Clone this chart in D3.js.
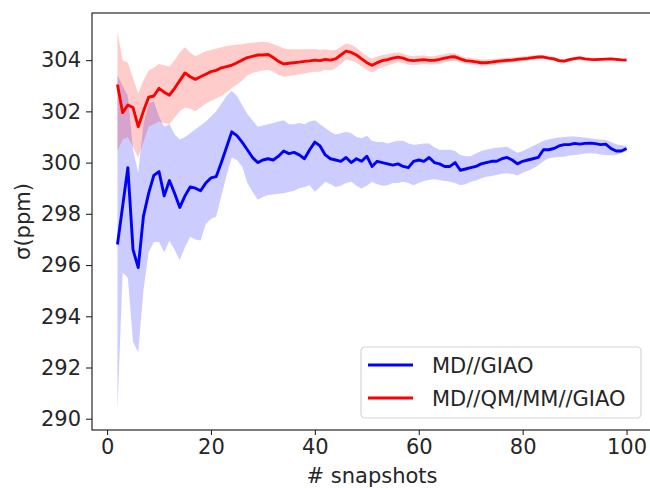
<!DOCTYPE html>
<html>
<head>
<meta charset="utf-8">
<script src="https://cdn.jsdelivr.net/npm/d3@7/dist/d3.min.js"></script>
<style>
	body { margin: 0; background: #fff; }
	text { font-family: "DejaVu Sans", sans-serif; fill: #262626; }
</style>
</head>
<body>
<div id="chart"></div>
<script>
// snapshots 2..100
var snapshots = d3.range(2, 101);

var blueMean = [296.8, 298.3, 299.8, 296.6, 295.9, 297.9, 298.8, 299.5, 299.65, 298.7,
	299.3, 298.8, 298.25, 298.7, 299.05, 299.0, 298.9, 299.2, 299.4, 299.45,
	300.0, 300.6, 301.2, 301.05, 300.8, 300.5, 300.2, 300.0, 300.1, 300.15,
	300.1, 300.25, 300.45, 300.35, 300.4, 300.3, 300.15, 300.5, 300.8, 300.65,
	300.3, 300.15, 300.1, 300.05, 300.2, 300.0, 300.15, 300.05, 300.25, 299.85,
	300.05, 300.0, 299.95, 299.9, 299.95, 299.85, 299.8, 300.05, 300.1, 300.05,
	300.2, 300.0, 299.95, 299.85, 299.85, 300.0, 299.7, 299.75, 299.8, 299.85,
	299.95, 300.0, 300.05, 300.05, 300.15, 300.2, 300.1, 299.95, 300.05, 300.1,
	300.15, 300.2, 300.5, 300.5, 300.55, 300.65, 300.7, 300.7, 300.75, 300.72,
	300.75, 300.76, 300.74, 300.7, 300.72, 300.55, 300.45, 300.45, 300.55];

var blueHigh = [303.4, 303.0, 302.6, 300.5, 299.6, 301.5, 302.3, 302.4, 301.8, 301.4,
	301.5, 301.1, 300.9, 301.0, 301.15, 301.3, 301.45, 301.6, 301.8, 302.0,
	302.3, 302.6, 302.8, 302.6, 302.25, 301.9, 301.65, 301.4, 301.45, 301.5,
	301.55, 301.6, 301.65, 301.5, 301.5, 301.55, 301.5, 301.6, 301.65, 301.5,
	301.35, 301.2, 301.1, 301.15, 301.2, 301.15, 301.0, 300.95, 301.05, 300.85,
	300.8, 300.8, 300.75, 300.8, 300.85, 300.85, 300.75, 300.7, 300.72, 300.75,
	300.75, 300.6, 300.5, 300.5, 300.5, 300.45, 300.3, 300.25, 300.25, 300.35,
	300.45, 300.5, 300.55, 300.58, 300.6, 300.62, 300.5, 300.38, 300.45, 300.55,
	300.65, 300.75, 300.85, 300.9, 300.95, 300.98, 301.0, 301.02, 301.02, 301.0,
	300.98, 300.95, 300.92, 300.9, 300.88, 300.8, 300.72, 300.68, 300.65];

var blueLow = [290.3, 295.7, 295.5, 293.0, 292.6, 295.0, 296.5, 296.9, 296.9, 296.5,
	296.95, 296.6, 296.2, 296.7, 297.1, 297.0, 296.96, 297.6, 297.8, 297.9,
	298.7, 299.5, 300.2, 300.1, 299.85, 299.2, 298.86, 298.55, 298.66, 298.73,
	298.75, 298.78, 298.8, 298.85, 298.9, 299.0, 299.05, 299.12, 298.86, 299.05,
	299.25, 299.15, 299.05, 299.1, 299.2, 299.25, 299.1, 298.99, 299.1, 299.25,
	299.15, 299.1, 299.12, 299.2, 299.2, 299.25, 299.2, 299.12, 299.2, 299.28,
	299.32, 299.35, 299.32, 299.28, 299.25, 299.2, 299.12, 299.15, 299.25, 299.3,
	299.38, 299.45, 299.48, 299.52, 299.56, 299.58, 299.55, 299.5, 299.6, 299.68,
	299.77, 299.9, 300.05, 300.17, 300.2, 300.22, 300.23, 300.28, 300.3, 300.32,
	300.35, 300.36, 300.35, 300.32, 300.3, 300.28, 300.3, 300.38, 300.43];

var redMean = [303.05, 301.95, 302.25, 302.15, 301.4, 302.0, 302.55, 302.6, 302.9, 302.75,
	302.63, 302.9, 303.2, 303.5, 303.35, 303.25, 303.35, 303.45, 303.55, 303.6,
	303.7, 303.75, 303.8, 303.9, 304.0, 304.1, 304.15, 304.2, 304.2, 304.22,
	304.1, 303.95, 303.85, 303.88, 303.9, 303.92, 303.95, 303.97, 304.0, 303.98,
	304.03, 304.0, 304.05, 304.2, 304.35, 304.3, 304.2, 304.05, 303.9, 303.8,
	303.9, 303.98, 304.02, 304.08, 304.12, 304.08, 304.0, 303.98, 304.0, 304.02,
	303.99, 303.99, 304.03, 304.08, 304.12, 304.13, 304.05, 303.98, 303.96, 303.93,
	303.9, 303.9, 303.92, 303.95, 303.97, 303.99, 304.0, 304.03, 304.05, 304.07,
	304.1, 304.12, 304.12, 304.08, 304.05, 303.98, 303.96, 304.02, 304.06, 304.09,
	304.05, 304.03, 304.02, 304.03, 304.04, 304.05, 304.03, 304.01, 304.0];

var redHigh = [305.1, 304.0, 303.9, 303.3, 302.7, 303.2, 303.6, 303.7, 303.85, 303.8,
	303.75, 304.0, 304.3, 304.5, 304.3, 304.15, 304.25, 304.35, 304.4, 304.45,
	304.5, 304.55, 304.58, 304.6, 304.62, 304.66, 304.68, 304.7, 304.72, 304.7,
	304.62, 304.55, 304.45, 304.42, 304.42, 304.42, 304.42, 304.42, 304.43, 304.4,
	304.42, 304.38, 304.4, 304.52, 304.65, 304.6, 304.48, 304.32, 304.16, 304.05,
	304.14, 304.2, 304.24, 304.28, 304.3, 304.26, 304.18, 304.15, 304.18, 304.18,
	304.15, 304.15, 304.2, 304.24, 304.27, 304.27, 304.18, 304.1, 304.08, 304.05,
	304.02, 304.02, 304.03, 304.06, 304.07, 304.09, 304.1, 304.12, 304.14, 304.15,
	304.18, 304.19, 304.19, 304.15, 304.12, 304.05, 304.03, 304.08, 304.12, 304.14,
	304.1, 304.08, 304.07, 304.07, 304.08, 304.09, 304.07, 304.05, 304.04];

var redLow = [300.45, 300.9, 301.0, 300.6, 300.2, 300.8, 301.4, 301.5, 301.6, 301.55,
	301.5, 301.75, 302.0, 302.15, 302.1, 302.0, 302.15, 302.3, 302.4, 302.5,
	302.6, 302.75, 302.9, 303.05, 303.2, 303.4, 303.5, 303.55, 303.6, 303.62,
	303.55, 303.42, 303.35, 303.38, 303.4, 303.45, 303.48, 303.52, 303.55, 303.55,
	303.62, 303.6, 303.68, 303.85, 304.02, 303.98, 303.9, 303.76, 303.62, 303.52,
	303.63, 303.72, 303.78, 303.86, 303.92, 303.89, 303.82, 303.8, 303.82, 303.85,
	303.83, 303.83, 303.86, 303.92, 303.97, 303.99, 303.92, 303.86, 303.84, 303.81,
	303.78, 303.79, 303.81, 303.84, 303.87, 303.89, 303.9, 303.94, 303.96, 303.99,
	304.02, 304.05, 304.05, 304.01, 303.98, 303.91, 303.89, 303.96, 304.0, 304.04,
	304.0, 303.98, 303.97, 303.99, 304.0, 304.01, 303.99, 303.97, 303.96];

var xTicks = [0, 20, 40, 60, 80, 100];
var yTicks = [290, 292, 294, 296, 298, 300, 302, 304];
var seriesNames = ["MD//GIAO", "MD//QM/MM//GIAO"];

var width = 650, height = 488;
var margin = {left: 92, top: 13, right: -2, bottom: 58};
var plotW = width - margin.left - margin.right;
var plotH = height - margin.top - margin.bottom;

// matplotlib style 5% margins
function padded(lo, hi) {
	var d = (hi - lo) * 0.05;
	return [lo - d, hi + d];
}

var xDom = padded(d3.min(snapshots), d3.max(snapshots));
var yDom = padded(d3.min(blueLow.concat(redLow)), d3.max(blueHigh.concat(redHigh)));

var x = d3.scaleLinear().domain(xDom).range([0, plotW]);
var y = d3.scaleLinear().domain(yDom).range([plotH, 0]);

var svg = d3.select("#chart").append("svg")
	.attr("width", width)
	.attr("height", height);

var g = svg.append("g").attr("transform", "translate(" + margin.left + "," + margin.top + ")");

function makeRows(mean, lo, hi) {
	return snapshots.map(function (s, i) {
		return {x: s, m: mean[i], lo: lo[i], hi: hi[i]};
	});
}

var series = [
	{name: seriesNames[0], color: "#0000ff", rows: makeRows(blueMean, blueLow, blueHigh)},
	{name: seriesNames[1], color: "#ff0000", rows: makeRows(redMean, redLow, redHigh)}
];

var area = d3.area()
	.x(function (d) { return x(d.x); })
	.y0(function (d) { return y(d.lo); })
	.y1(function (d) { return y(d.hi); });

var line = d3.line()
	.x(function (d) { return x(d.x); })
	.y(function (d) { return y(d.m); });

series.forEach(function (s) {
	g.append("path")
		.attr("d", area(s.rows))
		.attr("fill", s.color)
		.attr("fill-opacity", 0.2)
		.attr("stroke", "none");
});

series.forEach(function (s) {
	g.append("path")
		.attr("d", line(s.rows))
		.attr("fill", "none")
		.attr("stroke", s.color)
		.attr("stroke-width", 2.9)
		.attr("stroke-linejoin", "round");
});

//坐标轴
var xAxis = g.append("g")
	.attr("transform", "translate(0," + plotH + ")")
	.call(d3.axisBottom(x).tickValues(xTicks).tickSizeOuter(0).tickSize(5).tickPadding(4));

var yAxis = g.append("g")
	.call(d3.axisLeft(y).tickValues(yTicks).tickSizeOuter(0).tickSize(6).tickPadding(5));

[xAxis, yAxis].forEach(function (a) {
	a.select(".domain").remove();
	a.selectAll("line").attr("stroke", "#262626").attr("stroke-width", 1.1);
	a.selectAll("text").style("font-size", "21px").style("font-family", "DejaVu Sans, sans-serif").attr("fill", "#262626");
});

g.append("rect")
	.attr("x", 0)
	.attr("y", 0)
	.attr("width", plotW)
	.attr("height", plotH)
	.attr("fill", "none")
	.attr("stroke", "#262626")
	.attr("stroke-width", 1.2);

svg.append("text")
	.attr("x", margin.left + plotW / 2)
	.attr("y", 483)
	.attr("text-anchor", "middle")
	.style("font-size", "21px")
	.text("# snapshots");

svg.append("text")
	.attr("transform", "translate(30," + (margin.top + plotH / 2) + ") rotate(-90)")
	.attr("text-anchor", "middle")
	.style("font-size", "21px")
	.text("σ(ppm)");

// legend
var legend = svg.append("g").attr("transform", "translate(361,347)");
legend.append("rect")
	.attr("width", 280)
	.attr("height", 71)
	.attr("rx", 4)
	.attr("fill", "#fff")
	.attr("fill-opacity", 0.8)
	.attr("stroke", "#d6d6d6")
	.attr("stroke-width", 1.2);

series.forEach(function (s, i) {
	var ly = 18 + i * 33;
	legend.append("line")
		.attr("x1", 7)
		.attr("x2", 52)
		.attr("y1", ly)
		.attr("y2", ly)
		.attr("stroke", s.color)
		.attr("stroke-width", 2.9);
	legend.append("text")
		.attr("x", 71)
		.attr("y", ly + 7.5)
		.style("font-size", "21px")
		.text(s.name);
});
</script>
</body>
</html>
